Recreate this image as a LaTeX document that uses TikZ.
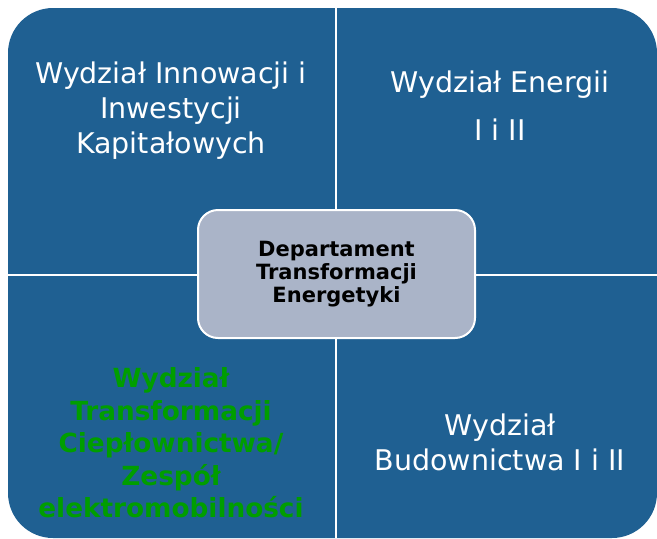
\documentclass[tikz,border=0pt]{standalone}
\usepackage{fontspec}
\setmainfont{DejaVu Sans}
\usepackage{tikz}

\definecolor{wydzialblue}{RGB}{31,96,146}
\definecolor{deptgray}{RGB}{170,180,200}
\definecolor{zielony}{RGB}{0,158,0}

\begin{document}
\begin{tikzpicture}[x=1pt, y=-1pt,
        panel/.style={fill=wydzialblue, rounded corners=45pt},
        divider/.style={draw=white, line width=2pt},
        wydzial/.style={text=white, align=center, inner sep=0pt, font=\fontsize{28.5}{35}\selectfont},
        % Style for the central box
        dept/.style={rectangle, rounded corners=20pt,
            minimum width=277pt, minimum height=128pt,
            align=center, draw=white, line width=2pt, fill=deptgray,
            font=\bfseries\fontsize{21}{23.3}\selectfont
        }
    ]
        \useasboundingbox (0,0) rectangle (657,539);

        % Background panel split into four quadrants
        \fill[panel] (8,8) rectangle (657,538);
        \draw[divider] (335.5,8) -- (335.5,538);
        \draw[divider] (8,274.5) -- (657,274.5);

        % Quadrant labels
        \node (innowacje) [wydzial] at (171,110.5) {Wydział Innowacji i\\Inwestycji\\Kapitałowych};
        \node (energia) [wydzial, font=\fontsize{28.5}{48}\selectfont] at (500,106) {Wydział Energii\\I i II};
        \node (cieplownictwo) [wydzial, text=zielony, font=\bfseries\fontsize{26.3}{32.5}\selectfont] at (171,443) {Wydział\\Transformacji\\Ciepłownictwa/\\Zespół\\elektromobilności};
        \node (budownictwo) [wydzial] at (500,442.7) {Wydział\\Budownictwa I i II};

        % Central department
        \node (departament) [dept] at (336.5,274) {Departament\\Transformacji\\Energetyki};

    \end{tikzpicture}
\end{document}
